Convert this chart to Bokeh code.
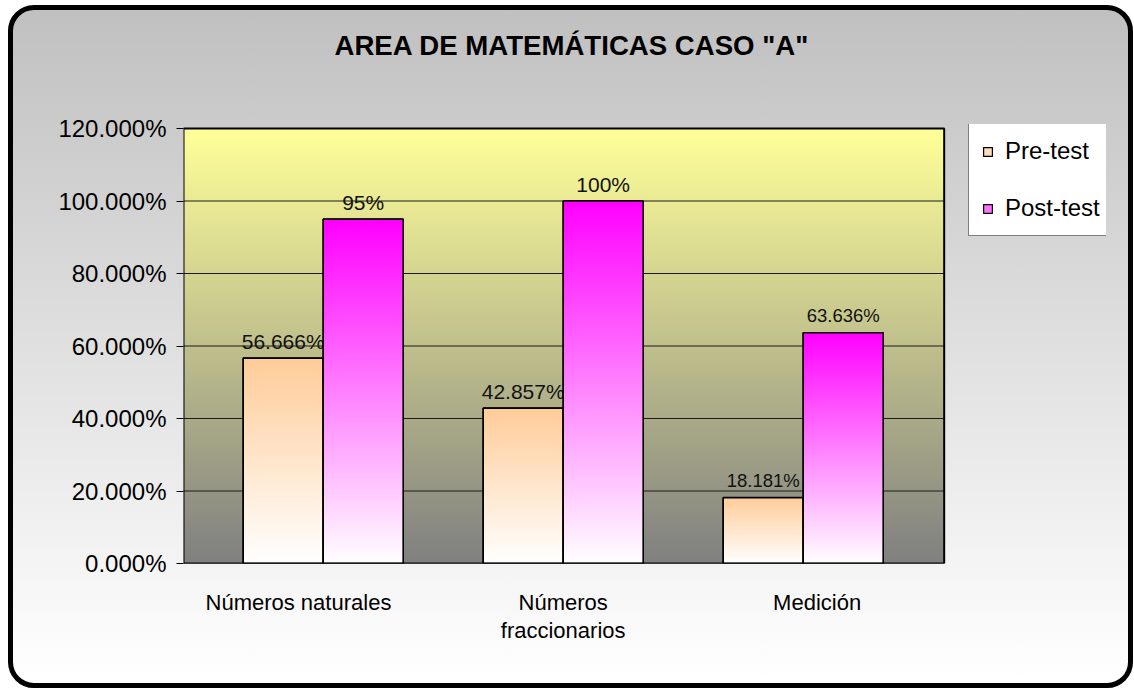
import numpy as np
from bokeh.plotting import figure
from bokeh.models import (ColumnDataSource, FixedTicker, NumeralTickFormatter,
                          Legend, LegendItem, LinearAxis, Title)
from bokeh.core.properties import value
from bokeh.embed import file_html
from bokeh.resources import INLINE

# ---------------- data ----------------
title_text = 'AREA DE MATEMÁTICAS CASO "A"'
categories = ["Números naturales", "Números\nfraccionarios", "Medición"]
series_names = ["Pre-test", "Post-test"]
pre_test = [0.56666, 0.42857, 0.18181]
post_test = [0.95, 1.00, 0.63636]
pre_labels = ["56.666%", "42.857%", "18.181%"]
post_labels = ["95%", "100%", "63.636%"]
y_ticks = [0.0, 0.2, 0.4, 0.6, 0.8, 1.0, 1.2]

# ---------------- style ----------------
FONT = "Liberation Sans"
X_START, X_PLOT_END, X_END = -0.582, 2.5875, 3.2638   # frame also hosts the legend
Y_MAX = 1.2
PX_PER_UNIT = 435 / Y_MAX
Y_TOP = Y_MAX + 4 / PX_PER_UNIT                         # room for legend top
BAR_W = 1 / 3
LABEL_SHIFT = [-0.103, 0.0, 0.058]      # Excel's category label placement
LABEL_SIZES = ["21px", "21px", "18.5px"]


def hexrgb(h):
    h = h.lstrip("#")
    return np.array([int(h[i:i + 2], 16) for i in (0, 2, 4)], dtype=float)


def vgrad(top, bottom, n=256):
    t = np.linspace(0.0, 1.0, n)[:, None]           # row 0 = bottom
    rgb = hexrgb(bottom) + (hexrgb(top) - hexrgb(bottom)) * t
    img = np.empty((n, 1), dtype=np.uint32)
    view = img.view(dtype=np.uint8).reshape((n, 1, 4))
    view[:, 0, 0] = np.round(rgb[:, 0])
    view[:, 0, 1] = np.round(rgb[:, 1])
    view[:, 0, 2] = np.round(rgb[:, 2])
    view[:, 0, 3] = 255
    return img


p = figure(frame_width=923, frame_height=439, output_backend="svg",
           toolbar_location=None, title=None,
           x_range=(X_START, X_END), y_range=(0, Y_TOP),
           min_border_left=170, min_border_right=22,
           min_border_top=114, min_border_bottom=120)
p.styles = {
    "background": "linear-gradient(to bottom, #c0c0c0 0%, #ffffff 100%)",
    "border": "5px solid #000000",
    "border-radius": "26px",
    "box-sizing": "content-box",
    "margin": "5px 0px 0px 8px",
}
p.border_fill_color = None
p.background_fill_color = None
p.outline_line_color = None
xaxis = p.below[0]
yaxis = p.left[0]
p.xgrid.grid_line_color = None
p.ygrid.grid_line_color = None

# plot-area gradient (yellow -> gray)
p.image_rgba(image=[vgrad("#ffff99", "#808080")], x=X_START, y=0,
             dw=X_PLOT_END - X_START, dh=Y_MAX, level="image")
# horizontal gridlines of the plot area
p.segment(x0=[X_START] * len(y_ticks), x1=[X_PLOT_END] * len(y_ticks),
          y0=y_ticks, y1=y_ticks, line_color="#1a1a1a", line_width=1)

idx = np.arange(len(categories))
pre_x = idx - BAR_W / 2
post_x = idx + BAR_W / 2

series = [
    (series_names[0], pre_x, pre_test, pre_labels, vgrad("#ffcc99", "#ffffff"), "#ffdcbb"),
    (series_names[1], post_x, post_test, post_labels, vgrad("#ff00ff", "#ffffff"), "#ff70ff"),
]

legend_items = []
for name, xs, vals, labels, grad, swatch in series:
    src = ColumnDataSource(dict(
        image=[grad] * len(vals), x=list(xs - BAR_W / 2), y=[0] * len(vals),
        dw=[BAR_W] * len(vals), dh=vals, cx=list(xs), top=vals,
        label=labels, fs=LABEL_SIZES))
    base = p.vbar(x="cx", top="top", width=BAR_W, source=src, fill_color=swatch,
                  line_color="black", line_width=1.2)
    p.image_rgba(image="image", x="x", y="y", dw="dw", dh="dh", source=src, level="glyph")
    p.vbar(x="cx", top="top", width=BAR_W, source=src, fill_alpha=0,
           line_color="black", line_width=1.6)
    p.text(x="cx", y="top", text="label", source=src, text_align="center",
           text_baseline="alphabetic", y_offset=-17, text_font=value(FONT),
           text_font_size="fs", text_color="#111111")
    legend_items.append(LegendItem(label=name, renderers=[base]))

# plot-area border
p.quad(left=[X_START], right=[X_PLOT_END], bottom=[0], top=[Y_MAX],
       fill_alpha=0, line_color="black", line_width=2)

legend = Legend(items=legend_items, location=(785, 327), margin=0, padding=13,
                spacing=29, glyph_width=11, glyph_height=11, label_standoff=12,
                label_text_font=FONT, label_text_font_size="24px",
                label_text_color="black",
                border_line_color="black", border_line_width=1,
                background_fill_color="white", background_fill_alpha=1.0)
p.add_layout(legend)

# invisible spacer between frame and title (one hidden tick gives it its height)
spacer_t = LinearAxis(ticker=FixedTicker(ticks=[0]), axis_line_color=None,
                      major_tick_line_color=None, minor_tick_line_color=None,
                      major_tick_out=64, minor_tick_out=0, major_tick_in=0,
                      minor_tick_in=0, major_label_standoff=0,
                      major_label_overrides={0: ""},
                      major_label_text_font_size="1px")
p.add_layout(spacer_t, "above")
p.add_layout(Title(text=title_text, align="left", offset=151, standoff=0,
                   vertical_align="bottom", text_font=FONT, text_font_size="27.6px",
                   text_font_style="bold", text_color="black"), "above")

# y axis
yaxis.ticker = FixedTicker(ticks=y_ticks)
yaxis.formatter = NumeralTickFormatter(format="0.000%")
yaxis.major_label_text_font = FONT
yaxis.major_label_text_font_size = "24px"
yaxis.major_label_text_color = "black"
yaxis.major_tick_out = 7
yaxis.major_tick_in = 0
yaxis.minor_tick_out = 0
yaxis.minor_tick_in = 0
yaxis.major_tick_line_color = "black"
yaxis.axis_line_color = None
yaxis.major_label_standoff = 10

# x axis (category labels)
x_ticks = [i + s for i, s in zip(range(len(categories)), LABEL_SHIFT)]
xaxis.ticker = FixedTicker(ticks=x_ticks)
xaxis.major_label_overrides = {t: c for t, c in zip(x_ticks, categories)}
xaxis.major_label_text_font = FONT
xaxis.major_label_text_font_size = "22px"
xaxis.major_label_text_color = "black"
xaxis.major_label_text_line_height = 1.15
xaxis.major_tick_out = 0
xaxis.major_tick_in = 0
xaxis.minor_tick_out = 0
xaxis.minor_tick_in = 0
xaxis.axis_line_color = None
xaxis.major_label_standoff = 26

open("out.html", "w").write(file_html(p, INLINE))
